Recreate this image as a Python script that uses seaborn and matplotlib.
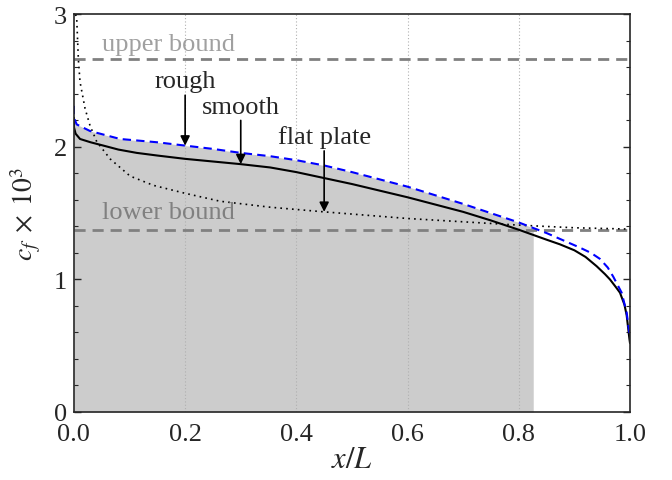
import matplotlib
matplotlib.use("Agg")
import matplotlib.pyplot as plt
import numpy as np
import pandas as pd
import seaborn as sns

# skin friction curves
x_rough = [0.0, 0.0, 0.005, 0.029, 0.083, 0.15, 0.2, 0.25, 0.3, 0.353, 0.4, 0.45,
           0.5, 0.55, 0.6, 0.65, 0.7, 0.75, 0.8, 0.85, 0.874, 0.91, 0.93, 0.946,
           0.96, 0.97, 0.985, 0.994, 0.998, 1.0]
cf_rough = [2.31, 2.22, 2.17, 2.12, 2.06, 2.035, 2.01, 1.985, 1.955, 1.93, 1.90, 1.86,
            1.81, 1.755, 1.70, 1.635, 1.57, 1.50, 1.43, 1.35, 1.306, 1.24, 1.20, 1.155,
            1.09, 1.02, 0.90, 0.75, 0.62, 0.58]

x_smooth = [0.0, 0.0, 0.003, 0.011, 0.03, 0.053, 0.08, 0.113, 0.15, 0.2, 0.25, 0.3,
            0.353, 0.4, 0.45, 0.5, 0.55, 0.6, 0.65, 0.7, 0.75, 0.8, 0.85, 0.874,
            0.9, 0.92, 0.94, 0.955, 0.964, 0.975, 0.982, 0.99, 0.994, 0.999, 1.0]
cf_smooth = [2.22, 2.15, 2.10, 2.06, 2.035, 2.01, 1.98, 1.955, 1.935, 1.91, 1.89, 1.87,
             1.845, 1.81, 1.765, 1.72, 1.67, 1.62, 1.565, 1.51, 1.445, 1.375, 1.30, 1.265,
             1.22, 1.17, 1.10, 1.04, 1.0, 0.94, 0.90, 0.81, 0.73, 0.55, 0.52]

x_flat = [0.003, 0.005, 0.008, 0.011, 0.02, 0.029, 0.041, 0.065, 0.101, 0.143, 0.2,
          0.263, 0.353, 0.45, 0.6, 0.8, 0.9, 1.0]
cf_flat = [3.0, 2.97, 2.66, 2.49, 2.29, 2.16, 2.04, 1.91, 1.78, 1.71, 1.65,
           1.59, 1.545, 1.51, 1.46, 1.41, 1.39, 1.38]

upper_bound = 2.66
lower_bound = 1.376
shade_end = 0.826

labels = ["rough", "smooth", "flat plate"]
label_pos = [(0.2, 2.50), (0.3, 2.30), (0.45, 2.08)]
arrow_tail = [2.39, 2.20, 1.97]
arrow_tip = [2.01, 1.87, 1.51]

sns.set_style("ticks")
plt.rcParams["font.family"] = ["Liberation Serif", "DejaVu Serif"]
plt.rcParams["mathtext.fontset"] = "stix"

fig = plt.figure(figsize=(6.72, 4.81), dpi=100)
ax = fig.add_axes([0.110, 0.1414, 0.8275, 0.8266])

# shaded area under the rough curve
xr = np.array(x_rough)
yr = np.array(cf_rough)
mask = xr <= shade_end
xs = np.append(xr[mask], shade_end)
ys = np.append(yr[mask], np.interp(shade_end, xr[2:], yr[2:]))
ax.fill_between(xs, 0, ys, color="#cccccc", lw=0, zorder=0)

for xv in [0.2, 0.4, 0.6, 0.8]:
    ax.axvline(xv, color="#b0b0b0", ls=(0, (1, 2)), lw=0.8, zorder=0.5)

ax.axhline(upper_bound, color="#808080", ls=(0, (4, 2.5)), lw=2, zorder=1)
ax.axhline(lower_bound, color="#808080", ls=(0, (4, 2.5)), lw=2, zorder=1)

df_flat = pd.DataFrame({"x": x_flat, "cf": cf_flat})
sns.lineplot(data=df_flat, x="x", y="cf", ax=ax, color="black", lw=1.2,
             linestyle=(0, (1, 2.5)), sort=False, estimator=None, zorder=2)
df_smooth = pd.DataFrame({"x": x_smooth, "cf": cf_smooth})
sns.lineplot(data=df_smooth, x="x", y="cf", ax=ax, color="black", lw=1.5,
             sort=False, estimator=None, zorder=3)
df_rough = pd.DataFrame({"x": x_rough, "cf": cf_rough})
sns.lineplot(data=df_rough, x="x", y="cf", ax=ax, color="blue", lw=1.5,
             linestyle=(0, (4, 2.5)), sort=False, estimator=None, zorder=4)

ax.text(0.05, 2.78, "upper bound", color="#a0a0a0", fontsize=19, va="center")
ax.text(0.05, 1.51, "lower bound", color="#808080", fontsize=19, va="center")

for lab, (tx, ty), tail, tip in zip(labels, label_pos, arrow_tail, arrow_tip):
    ax.text(tx, ty, lab, fontsize=19, ha="center", va="center", zorder=6)
    ax.annotate("", xy=(tx, tip), xytext=(tx, tail),
                arrowprops=dict(arrowstyle="-|>", color="black", lw=1.2,
                                mutation_scale=14, shrinkA=0, shrinkB=0),
                zorder=6)

ax.set_xlim(0, 1)
ax.set_ylim(0, 3)
ax.set_xticks([0, 0.2, 0.4, 0.6, 0.8, 1.0])
ax.set_xticklabels(["0.0", "0.2", "0.4", "0.6", "0.8", "1.0"])
ax.set_yticks([0, 1, 2, 3])
ax.set_yticks(np.arange(0, 3.01, 0.2), minor=True)
ax.tick_params(which="both", direction="in", top=True, right=True,
               labelsize=19, pad=5)
ax.tick_params(which="major", length=5, width=1)
ax.tick_params(which="minor", length=3, width=0.8)
ax.tick_params(axis="x", which="major", length=0, pad=8)
for sp in ax.spines.values():
    sp.set_linewidth(1.2)
    sp.set_zorder(7)

ax.set_xlabel(r"$x/L$", fontsize=22, labelpad=0)
ax.set_ylabel(r"$c_f\;\times\;10^3$", fontsize=20, labelpad=8)

fig.savefig("out.png", dpi=100)
